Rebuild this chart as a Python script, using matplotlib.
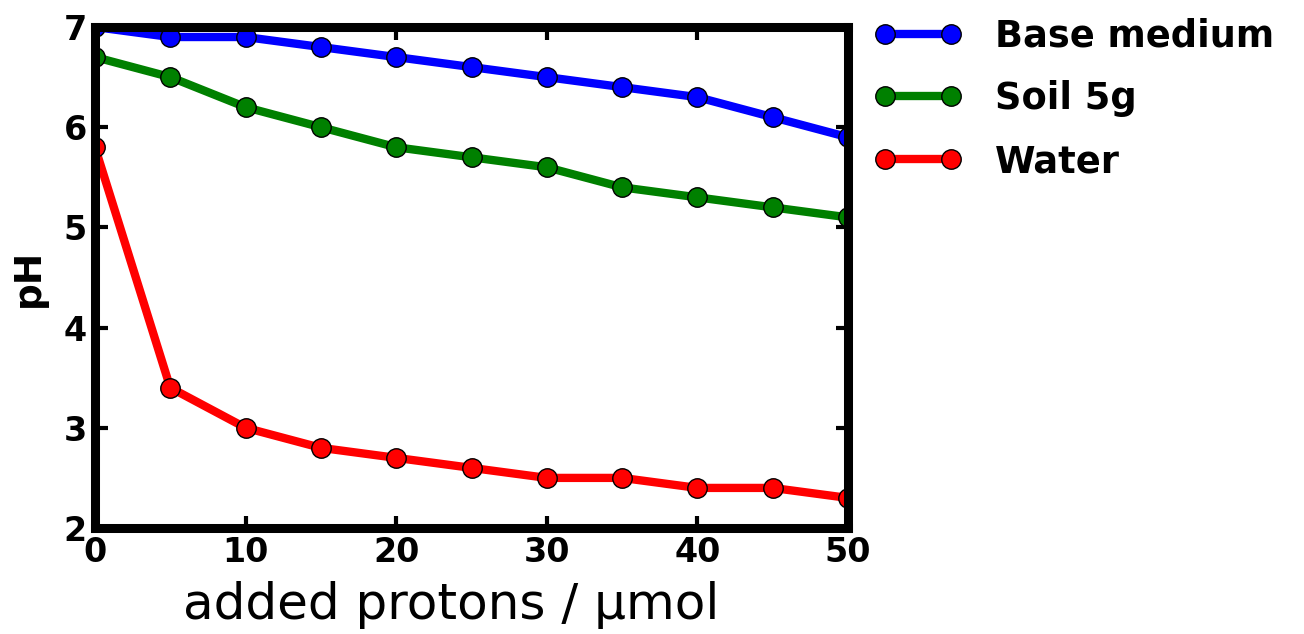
import numpy as np
import matplotlib
matplotlib.use("Agg")
import matplotlib.pyplot as plt

# data
protons = [0, 5, 10, 15, 20, 25, 30, 35, 40, 45, 50]
base_medium = [7.0, 6.9, 6.9, 6.8, 6.7, 6.6, 6.5, 6.4, 6.3, 6.1, 5.9]
soil_5g = [6.7, 6.5, 6.2, 6.0, 5.8, 5.7, 5.6, 5.4, 5.3, 5.2, 5.1]
water = [5.8, 3.4, 3.0, 2.8, 2.7, 2.6, 2.5, 2.5, 2.4, 2.4, 2.3]

series = [
    (base_medium, "Base medium", (0, 0, 1)),
    (soil_5g, "Soil 5g", (0, 0.5, 0)),
    (water, "Water", (1, 0, 0)),
]

fig = plt.figure(figsize=(13.04, 6.34), dpi=100)
ax = fig.add_axes([95 / 1304, 1 - 528 / 634, (848 - 95) / 1304, (528 - 27) / 634])

for ys, name, col in series:
    ax.plot(protons, ys, '-o', color=col, lw=6, ms=14,
            mec='black', mew=1, label=name)

ax.set_xlim(0, 50)
ax.set_ylim(2, 7)
ax.set_xticks([0, 10, 20, 30, 40, 50])
ax.set_yticks([2, 3, 4, 5, 6, 7])

for s in ax.spines.values():
    s.set_linewidth(6.5)
ax.tick_params(direction='in', length=9, width=3, top=True, right=True,
               labelsize=24, pad=6)
for lab in ax.get_xticklabels() + ax.get_yticklabels():
    lab.set_fontweight('bold')

ax.set_xlabel("added protons / µmol", fontsize=36)
ax.xaxis.set_label_coords(0.473, -0.105)
ax.set_ylabel("pH", fontsize=27, fontweight='bold', labelpad=12)

leg = ax.legend(loc='upper left', bbox_to_anchor=(0.99, 1.085), frameon=False,
                numpoints=2, handlelength=2.4, handletextpad=0.9,
                prop={'size': 26.5, 'weight': 'bold'}, labelspacing=0.7)

fig.savefig("out.png", dpi=100)
